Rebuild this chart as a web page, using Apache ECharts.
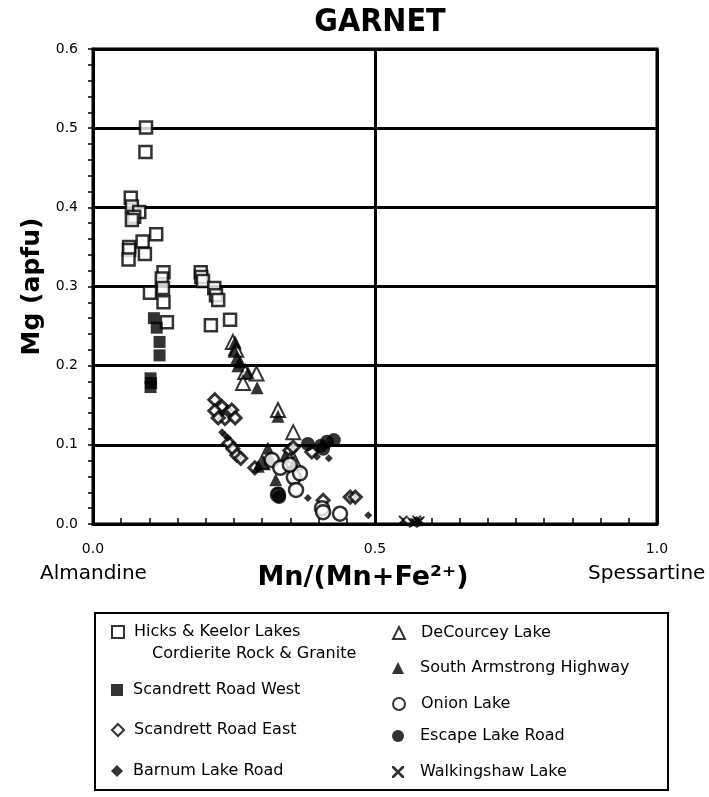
<!DOCTYPE html>
<html>
<head>
<meta charset="utf-8">
<script src="https://cdn.jsdelivr.net/npm/echarts@6/dist/echarts.min.js"></script>
<style>
  html, body { margin: 0; padding: 0; background: #fff; }
  #chart { width: 709px; height: 797px; }
</style>
</head>
<body>
<div id="chart"></div>
<script>
// x = Mn/(Mn+Fe2+), y = Mg (apfu)
const hicksKeelor = [
  [0.094, 0.501], [0.093, 0.470], [0.067, 0.412], [0.069, 0.401], [0.082, 0.394],
  [0.073, 0.388], [0.069, 0.384], [0.112, 0.366], [0.088, 0.357], [0.064, 0.350],
  [0.064, 0.346], [0.092, 0.341], [0.063, 0.334], [0.125, 0.318], [0.122, 0.310],
  [0.124, 0.298], [0.101, 0.292], [0.125, 0.280], [0.131, 0.255],
  [0.191, 0.318], [0.192, 0.312], [0.195, 0.307], [0.215, 0.298], [0.218, 0.289],
  [0.222, 0.283], [0.209, 0.251], [0.243, 0.258]
];
const scandrettWest = [
  [0.108, 0.260], [0.113, 0.248], [0.118, 0.230], [0.118, 0.213],
  [0.102, 0.184], [0.103, 0.178], [0.102, 0.173]
];
const scandrettEast = [
  [0.216, 0.157], [0.229, 0.148], [0.216, 0.143], [0.239, 0.141], [0.246, 0.144],
  [0.234, 0.133], [0.252, 0.134], [0.222, 0.134], [0.241, 0.102], [0.248, 0.095],
  [0.255, 0.087], [0.262, 0.083], [0.287, 0.071], [0.349, 0.093], [0.355, 0.097],
  [0.388, 0.091], [0.408, 0.030], [0.456, 0.034], [0.465, 0.034]
];
const barnumLake = [
  [0.229, 0.116], [0.234, 0.112], [0.239, 0.109], [0.381, 0.033],
  [0.397, 0.085], [0.418, 0.083], [0.488, 0.011]
];
const deCourcey = [
  [0.248, 0.230], [0.254, 0.220], [0.270, 0.192], [0.266, 0.178], [0.328, 0.144],
  [0.355, 0.116], [0.358, 0.078], [0.300, 0.078], [0.349, 0.081], [0.290, 0.190]
];
const southArmstrong = [
  [0.252, 0.230], [0.250, 0.220], [0.255, 0.210], [0.257, 0.200], [0.261, 0.205],
  [0.275, 0.191], [0.291, 0.172], [0.328, 0.136], [0.310, 0.096], [0.314, 0.083],
  [0.293, 0.073], [0.324, 0.056], [0.340, 0.085], [0.355, 0.075], [0.301, 0.077]
];
const onionLake = [
  [0.317, 0.081], [0.332, 0.071], [0.356, 0.059], [0.367, 0.064], [0.360, 0.043],
  [0.406, 0.020], [0.408, 0.015], [0.438, 0.013], [0.328, 0.037], [0.349, 0.075]
];
const escapeLake = [
  [0.381, 0.101], [0.404, 0.099], [0.408, 0.095], [0.415, 0.104],
  [0.427, 0.106], [0.330, 0.034], [0.328, 0.038]
];
const walkingshaw = [
  [0.550, 0.005], [0.565, 0.003], [0.574, 0.005], [0.580, 0.004],
  [0.568, 0.001], [0.571, 0.002], [0.577, 0.003]
];

const font = 'DejaVu Sans';
const crossPath = 'path://M0,0 L1.6,0 L5,3.4 L8.4,0 L10,0 L10,1.6 L6.6,5 L10,8.4 L10,10 L8.4,10 L5,6.6 L1.6,10 L0,10 L0,8.4 L3.4,5 L0,1.6 Z';

const hollow = { color: '#fff', borderColor: '#000', borderWidth: 2.5 };
const solid = { color: '#000' };

const seriesList = [
  { name: 'Hicks & Keelor Lakes', data: hicksKeelor, symbol: 'rect', symbolSize: 12, itemStyle: hollow },
  { name: 'Scandrett Road West', data: scandrettWest, symbol: 'rect', symbolSize: 12, itemStyle: solid },
  { name: 'Scandrett Road East', data: scandrettEast, symbol: 'diamond', symbolSize: 12, itemStyle: { color: '#fff', borderColor: '#000', borderWidth: 3 } },
  { name: 'Barnum Lake Road', data: barnumLake, symbol: 'diamond', symbolSize: 8, itemStyle: solid },
  { name: 'DeCourcey Lake', data: deCourcey, symbol: 'triangle', symbolSize: 14, itemStyle: { color: '#fff', borderColor: '#000', borderWidth: 2 } },
  { name: 'South Armstrong Highway', data: southArmstrong, symbol: 'triangle', symbolSize: 13, itemStyle: solid },
  { name: 'Onion Lake', data: onionLake, symbol: 'circle', symbolSize: 14, itemStyle: hollow },
  { name: 'Escape Lake Road', data: escapeLake, symbol: 'circle', symbolSize: 14, itemStyle: solid },
  { name: 'Walkingshaw Lake', data: walkingshaw, symbol: crossPath, symbolSize: 9, itemStyle: solid }
];

// one legend per entry so each sits where the original puts it
const legendSpots = [
  ['Hicks & Keelor Lakes', 111, 624, 5],
  ['Scandrett Road West', 111, 682, 5],
  ['Scandrett Road East', 111, 722, 5],
  ['Barnum Lake Road', 111, 763, 5],
  ['DeCourcey Lake', 392, 625, 11],
  ['South Armstrong Highway', 392, 660, 11],
  ['Onion Lake', 392, 696, 11],
  ['Escape Lake Road', 392, 728, 11],
  ['Walkingshaw Lake', 392, 764, 11]
];

const myChart = echarts.init(document.getElementById('chart'));

myChart.setOption({
  backgroundColor: '#fff',
  animation: false,
  title: {
    text: 'GARNET',
    left: 375,
    textAlign: 'center',
    top: 2,
    textStyle: { fontFamily: '"DejaVu Sans Condensed", "DejaVu Sans"', fontWeight: 'bold', fontSize: 32, color: '#000' }
  },
  grid: {
    left: 93, right: 52, top: 49, bottom: 273,
    show: true, borderColor: '#000', borderWidth: 3
  },
  legend: legendSpots.map(([name, left, top, gap]) => ({
    data: [name],
    left: left,
    top: top,
    padding: 0,
    orient: 'vertical',
    itemWidth: 12,
    itemHeight: 12,
    selectedMode: false,
    textStyle: { fontFamily: font, fontSize: 16, color: '#000', padding: [0, 0, 0, gap] }
  })),
  xAxis: {
    type: 'value',
    min: 0, max: 1, interval: 0.5,
    name: 'Mn/(Mn+Fe²⁺)',
    nameLocation: 'middle',
    nameGap: 40,
    nameTextStyle: { fontFamily: font, fontWeight: 'bold', fontSize: 27, color: '#000', padding: [0, 24, 0, 0] },
    axisLine: { lineStyle: { color: '#000', width: 3 } },
    axisTick: { inside: true, length: 6, lineStyle: { color: '#000', width: 1.5 } },
    minorTick: { show: true, splitNumber: 10, length: 6, lineStyle: { color: '#000', width: 1.5 } },
    splitLine: { show: true, lineStyle: { color: '#000', width: 3 } },
    axisLabel: {
      margin: 18, fontFamily: font, fontSize: 14, color: '#000',
      formatter: v => v.toFixed(1)
    }
  },
  yAxis: {
    type: 'value',
    min: 0, max: 0.6, interval: 0.1,
    name: 'Mg (apfu)',
    nameLocation: 'middle',
    nameGap: 48,
    nameTextStyle: { fontFamily: font, fontWeight: 'bold', fontSize: 25, color: '#000' },
    axisLine: { lineStyle: { color: '#000', width: 3 } },
    axisTick: { length: 5, lineStyle: { color: '#000', width: 1.5 } },
    minorTick: { show: true, splitNumber: 5, length: 5, lineStyle: { color: '#000', width: 1.5 } },
    splitLine: { show: true, lineStyle: { color: '#000', width: 3 } },
    axisLabel: {
      margin: 15, fontFamily: font, fontSize: 14, color: '#000',
      formatter: v => v.toFixed(1)
    }
  },
  graphic: [
    { type: 'text', left: 40, top: 564, style: { text: 'Almandine', font: '20px "DejaVu Sans"', fill: '#000' } },
    { type: 'text', left: 588, top: 564, style: { text: 'Spessartine', font: '20px "DejaVu Sans"', fill: '#000' } },
    { type: 'rect', shape: { x: 95, y: 613, width: 573, height: 177 }, style: { fill: 'transparent', stroke: '#000', lineWidth: 2 } },
    { type: 'text', left: 152, top: 646, style: { text: 'Cordierite Rock & Granite', font: '16px "DejaVu Sans"', fill: '#000' } }
  ],
  series: seriesList.map(s => Object.assign({ type: 'scatter' }, s))
});
</script>
</body>
</html>
